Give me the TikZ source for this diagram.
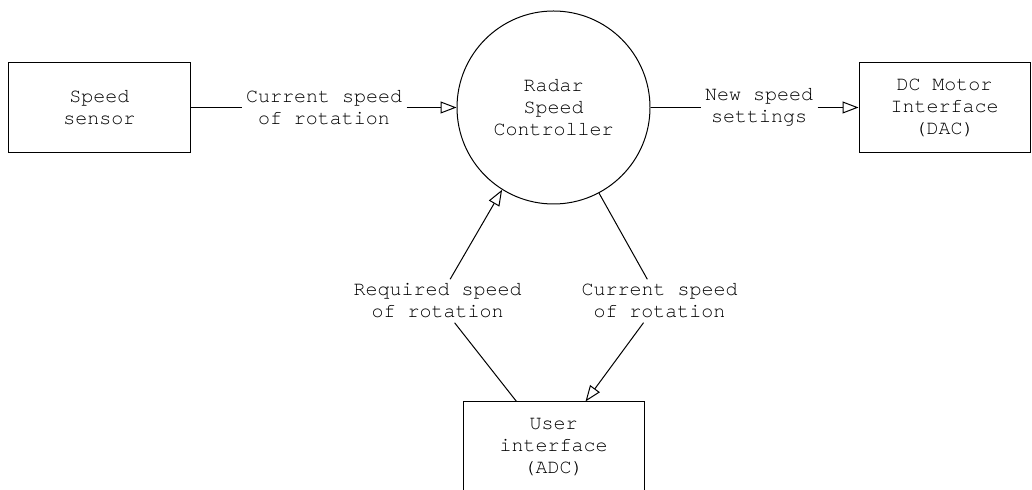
\documentclass[tikz,border=0pt]{standalone}
\usepackage{fontspec}
\setmonofont{TeX Gyre Cursor}
\usetikzlibrary{positioning,arrows.meta}

\begin{document}
\begin{tikzpicture}[x=0.5pt, y=-0.5pt, line width=0.5pt,
  font=\ttfamily\fontsize{10}{11}\selectfont,
  block/.style={draw, rectangle, minimum height=45pt, align=center},
  lbl/.style={inner sep=2pt, align=center},
  flow/.style={-{Triangle[open, length=8pt, width=6pt]}}]
\useasboundingbox (0,0) rectangle (1032,490);
\node[draw, circle, minimum size=96.5pt, inner sep=0pt, align=center] (radar) at (553.5,107.5) {Radar\\Speed\\Controller};
\node[block, minimum width=91.3pt] (sensor) at (99.3,107.5) {Speed\\sensor};
\node[block, minimum width=85.5pt] (dcmotor) at (944.5,107.5) {DC Motor\\Interface\\(DAC)};
\node[block, minimum width=90.5pt] (userif) at (553.5,447) {User\\interface\\(ADC)};
\node[lbl] (curspeed) at (324,107.5) {Current speed\\of rotation};
\node[lbl] (newspeed) at (759,107.5) {New speed\\settings};
\node[lbl] (reqspeed) at (437.5,301) {Required speed\\of rotation};
\node[lbl] (curback) at (659.5,301) {Current speed\\of rotation};
\draw (sensor) -- (curspeed);
\draw[flow] (curspeed) -- (radar);
\draw (radar) -- (newspeed);
\draw[flow] (newspeed) -- (dcmotor);
\draw ([xshift=27pt]userif.north west) -- (reqspeed);
\draw[flow] (reqspeed) -- (radar.238);
\draw (radar.298) -- (curback);
\draw[flow] (curback) -- ([xshift=-29.5pt]userif.north east);
\end{tikzpicture}
\end{document}
